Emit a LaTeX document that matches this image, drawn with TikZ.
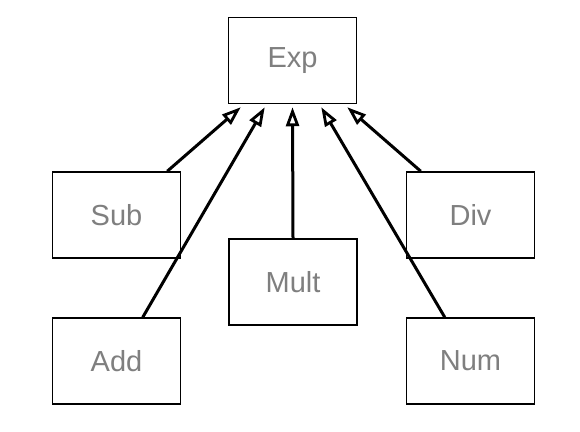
\documentclass[tikz,border=0pt]{standalone}
\usepackage{fontspec}
\setmainfont{Liberation Sans}
\usetikzlibrary{arrows.meta}
\definecolor{txtgray}{HTML}{7F7F7F}
\begin{document}
\begin{tikzpicture}[x=1pt,y=-1pt,
  cls/.style={draw=black,line width=1.5pt,fill=white,minimum width=128pt,minimum height=86pt,inner sep=0pt,
    text=txtgray,font=\fontsize{29}{32}\selectfont},
  inh/.style={line width=3pt,-{Triangle[open,length=19pt,width=13pt,line width=2.8pt]}}]
\useasboundingbox (0,0) rectangle (580,431);
\node[cls] (exp) at (292.5,60.5) {Exp};
\node[cls] (sub) at (116.5,215) {Sub};
\node[cls] (div) at (470.5,215) {Div};
\node[cls] (mult) at (293,282) {Mult};
\node[cls] (add) at (116.5,361) {Add};
\node[cls] (num) at (470.5,361) {Num};
\draw[inh] ([xshift=-14pt]sub.north east) -- ([xshift=13pt,yshift=-3pt]exp.south west);
\draw[inh] ([xshift=91pt]add.north west) -- ([xshift=37pt,yshift=-3pt]exp.south west);
\draw[inh] (mult.north) -- ([yshift=-3pt]exp.south);
\draw[inh] ([xshift=39pt]num.north west) -- ([xshift=-36pt,yshift=-3pt]exp.south east);
\draw[inh] ([xshift=15pt]div.north west) -- ([xshift=-10pt,yshift=-3pt]exp.south east);
\end{tikzpicture}
\end{document}
